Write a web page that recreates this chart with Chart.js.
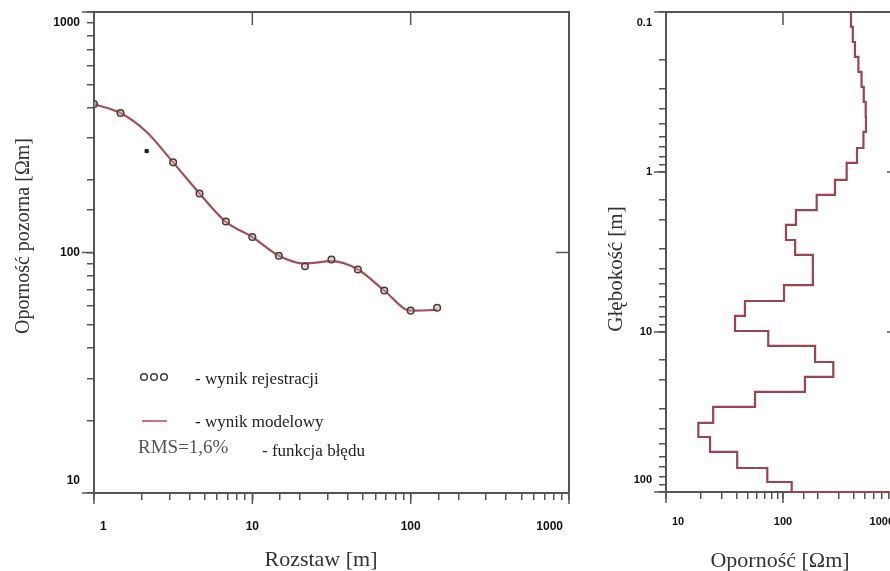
<!DOCTYPE html>
<html>
<head>
<meta charset="utf-8">
<title>Sondowanie elektrooporowe</title>
<script src="https://cdn.jsdelivr.net/npm/chart.js@4.4.1/dist/chart.umd.min.js"></script>
<style>
  html, body { margin: 0; padding: 0; background: #fff; overflow: hidden; }
  #wrap { position: relative; width: 890px; height: 571px; overflow: hidden; }
  #left { position: absolute; left: 0; top: 0; }
  #right { position: absolute; left: 570px; top: 0; }
</style>
</head>
<body>
<div id="wrap">
  <canvas id="left" width="600" height="571"></canvas>
  <canvas id="right" width="360" height="571"></canvas>
</div>
<script>
// Krzywa sondowania: rozstaw AB/2 [m] i opornosc pozorna [Ohm m]
const spacing = [1, 1.47, 2.15, 3.16, 4.64, 6.81, 10, 14.7, 21.5, 31.6, 46.4, 68.1, 100, 147];
const measured = [414, 380, null, 237, 176, 134.5, 116, 97, 87.7, 93.5, 85, 69.5, 57.3, 58.9];
const model = [414, 380, 317, 237, 176, 134, 116, 97, 90, 92, 85, 69.5, 57.3, 57.7];
// punkt odrzucony z rejestracji
const rejectedX = [2.15];
const rejectedY = [264];

// Model warstwowy: strop warstwy [m] i opornosc [Ohm m]
const depthTop = [0.1, 0.124, 0.154, 0.191, 0.237, 0.294, 0.365, 0.453, 0.562, 0.708,
                  0.878, 1.12, 1.39, 1.73, 2.14, 2.66, 3.30, 5.09, 6.40, 7.94,
                  9.86, 12.2, 15.4, 19.1, 23.7, 29.4, 37.0, 45.3, 56.2, 70.8, 86.6, 100];
const layerRho = [381, 395, 412, 441, 469, 490, 509, 512, 487, 429,
                  350, 278, 194, 129, 106, 127, 180, 102, 47.3, 38.9,
                  74.8, 188, 269, 154, 57.7, 25.3, 18.9, 23.8, 40.6, 73.4, 118.6, 10000];

// tick labels only at decades
const leftXTicks = [1, 10, 100, 1000];
const leftYTicks = [10, 100, 1000];
const rightXTicks = [10, 100, 1000];
const rightYTicks = [0.1, 1, 10, 100];

const axisColor = '#555';
const modelColor = '#a24f58';
const profileColor = '#9a4650';

function fmt(v) {
  return String(+Number(v).toPrecision(3));
}

function logAxis(min, max, fitSize, reverse) {
  return {
    type: 'logarithmic',
    min: min,
    max: max,
    reverse: !!reverse,
    border: { display: true, color: axisColor, width: 2 },
    grid: { display: true, drawOnChartArea: false, drawTicks: true, tickLength: 7, color: axisColor, lineWidth: 1.5 },
    ticks: { display: false, autoSkip: false },
    afterFit: fitSize
  };
}

// frame, inner ticks, decade labels, axis titles and the legend
const decor = {
  id: 'decor',
  afterDraw(chart, args, o) {
    const ctx = chart.ctx;
    const a = chart.chartArea;
    const sx = chart.scales.x, sy = chart.scales.y;
    ctx.save();
    ctx.strokeStyle = axisColor;
    ctx.lineWidth = 2;
    ctx.beginPath();
    ctx.moveTo(a.left, a.top);
    ctx.lineTo(a.right, a.top);
    ctx.lineTo(a.right, a.bottom);
    ctx.stroke();

    // inward ticks on the top and right frame, longer outward ticks at decades
    ctx.lineWidth = 1.5;
    ctx.beginPath();
    o.topTicks.forEach(v => {
      const x = sx.getPixelForValue(v);
      ctx.moveTo(x, a.top);
      ctx.lineTo(x, a.top + 13);
    });
    o.rightTicks.forEach(v => {
      const y = sy.getPixelForValue(v);
      ctx.moveTo(a.right, y);
      ctx.lineTo(a.right - 13, y);
    });
    o.xLabels.forEach(v => {
      const x = sx.getPixelForValue(v);
      ctx.moveTo(x, a.bottom);
      ctx.lineTo(x, a.bottom + 11);
    });
    o.yLabels.forEach(v => {
      const y = sy.getPixelForValue(v);
      ctx.moveTo(a.left, y);
      ctx.lineTo(a.left - 12, y);
    });
    ctx.stroke();

    // end labels are pulled inside the axis extent, like in the original plot
    ctx.fillStyle = '#111';
    ctx.font = 'bold ' + o.tickFont + 'px "Liberation Sans"';
    ctx.textBaseline = 'middle';
    ctx.textAlign = 'center';
    o.xLabels.forEach(v => {
      const t = fmt(v);
      const w = ctx.measureText(t).width;
      let x = sx.getPixelForValue(v);
      x = Math.min(Math.max(x, a.left + w / 2 + 6), a.right - w / 2 - 6);
      ctx.fillText(t, x, a.bottom + o.xLabelGap);
    });
    ctx.textAlign = 'right';
    o.yLabels.forEach(v => {
      let y = sy.getPixelForValue(v);
      y = Math.min(Math.max(y, a.top + 11), a.bottom - 12);
      ctx.fillText(fmt(v), a.left - 14, y);
    });

    ctx.fillStyle = '#333';
    ctx.textAlign = 'center';
    ctx.textBaseline = 'alphabetic';
    ctx.font = o.xTitle.size + 'px "Liberation Serif"';
    ctx.fillText(o.xTitle.text, o.xTitle.x, o.xTitle.y);

    ctx.save();
    ctx.translate(o.yTitle.x, o.yTitle.y);
    ctx.rotate(-Math.PI / 2);
    ctx.textBaseline = 'middle';
    ctx.font = o.yTitle.size + 'px "Liberation Serif"';
    ctx.fillText(o.yTitle.text, 0, 0);
    ctx.restore();

    if (o.legend) {
      const L = o.legend;
      ctx.lineWidth = 1.5;
      ctx.strokeStyle = '#4b3b3d';
      [144, 154, 164].forEach(cx => {
        ctx.beginPath();
        ctx.arc(cx, 377, 3.3, 0, Math.PI * 2);
        ctx.stroke();
      });
      ctx.strokeStyle = '#d0707c';
      ctx.lineWidth = 2;
      ctx.beginPath();
      ctx.moveTo(142, 421);
      ctx.lineTo(167, 421);
      ctx.stroke();

      ctx.textAlign = 'left';
      ctx.textBaseline = 'middle';
      ctx.fillStyle = '#222';
      ctx.font = '17px "Liberation Serif"';
      ctx.fillText(L[0], 195, 380);
      ctx.fillText(L[1], 195, 423);
      ctx.fillStyle = '#555';
      ctx.font = '19px "Liberation Serif"';
      ctx.fillText(L[2], 138, 448);
      ctx.fillStyle = '#222';
      ctx.font = '17px "Liberation Serif"';
      ctx.fillText(L[3], 262, 452);
    }
    ctx.restore();
  }
};

new Chart(document.getElementById('left'), {
  type: 'scatter',
  data: {
    datasets: [
      {
        label: 'wynik modelowy',
        data: spacing.map((x, i) => ({ x: x, y: model[i] })),
        showLine: true,
        borderColor: modelColor,
        borderWidth: 2.2,
        pointRadius: 0,
        cubicInterpolationMode: 'monotone',
        order: 3
      },
      {
        label: 'wynik rejestracji',
        data: spacing.map((x, i) => ({ x: x, y: measured[i] })).filter(p => p.y !== null),
        pointRadius: 3.3,
        pointBorderWidth: 1.5,
        pointBorderColor: '#4b3b3d',
        pointBackgroundColor: 'rgba(200,170,170,0.5)',
        order: 1
      },
      {
        label: 'odrzucony',
        data: rejectedX.map((x, i) => ({ x: x, y: rejectedY[i] })),
        pointStyle: 'rect',
        pointRadius: 2.2,
        pointBorderColor: '#1a1a1a',
        pointBackgroundColor: '#1a1a1a',
        order: 2
      }
    ]
  },
  options: {
    responsive: false,
    animation: false,
    layout: { padding: { top: 12, right: 31, left: 0, bottom: 0 } },
    scales: {
      x: logAxis(1, 1000, s => { s.height = 78; }),
      y: logAxis(10, 1000, s => { s.width = 94; })
    },
    plugins: {
      legend: { display: false },
      tooltip: { enabled: false },
      decor: {
        topTicks: [10, 100],
        rightTicks: [100],
        tickFont: 12,
        xLabels: leftXTicks,
        yLabels: leftYTicks,
        xLabelGap: 34,
        xTitle: { text: 'Rozstaw [m]', size: 22, x: 321, y: 566 },
        yTitle: { text: 'Oporność pozorna [Ωm]', size: 20, x: 24, y: 236 },
        legend: ['- wynik rejestracji', '- wynik modelowy', 'RMS=1,6%', '- funkcja błędu']
      }
    }
  },
  plugins: [decor]
});

new Chart(document.getElementById('right'), {
  type: 'scatter',
  data: {
    datasets: [
      {
        label: 'model warstwowy',
        data: depthTop.map((d, i) => ({ x: layerRho[i], y: d })),
        showLine: true,
        stepped: 'after',
        borderColor: profileColor,
        borderWidth: 2.2,
        pointRadius: 0,
        clip: 2
      }
    ]
  },
  options: {
    responsive: false,
    animation: false,
    layout: { padding: { top: 12, right: 30, left: 0, bottom: 0 } },
    scales: {
      x: logAxis(10, 1000, s => { s.height = 79; }),
      y: logAxis(0.1, 100, s => { s.width = 96; }, true)
    },
    plugins: {
      legend: { display: false },
      tooltip: { enabled: false },
      decor: {
        topTicks: [100],
        rightTicks: [1, 10],
        tickFont: 11,
        xLabels: rightXTicks,
        yLabels: rightYTicks,
        xLabelGap: 30,
        xTitle: { text: 'Oporność [Ωm]', size: 22, x: 210, y: 567 },
        yTitle: { text: 'Głębokość [m]', size: 21, x: 46, y: 269 }
      }
    }
  },
  plugins: [decor]
});
</script>
</body>
</html>
